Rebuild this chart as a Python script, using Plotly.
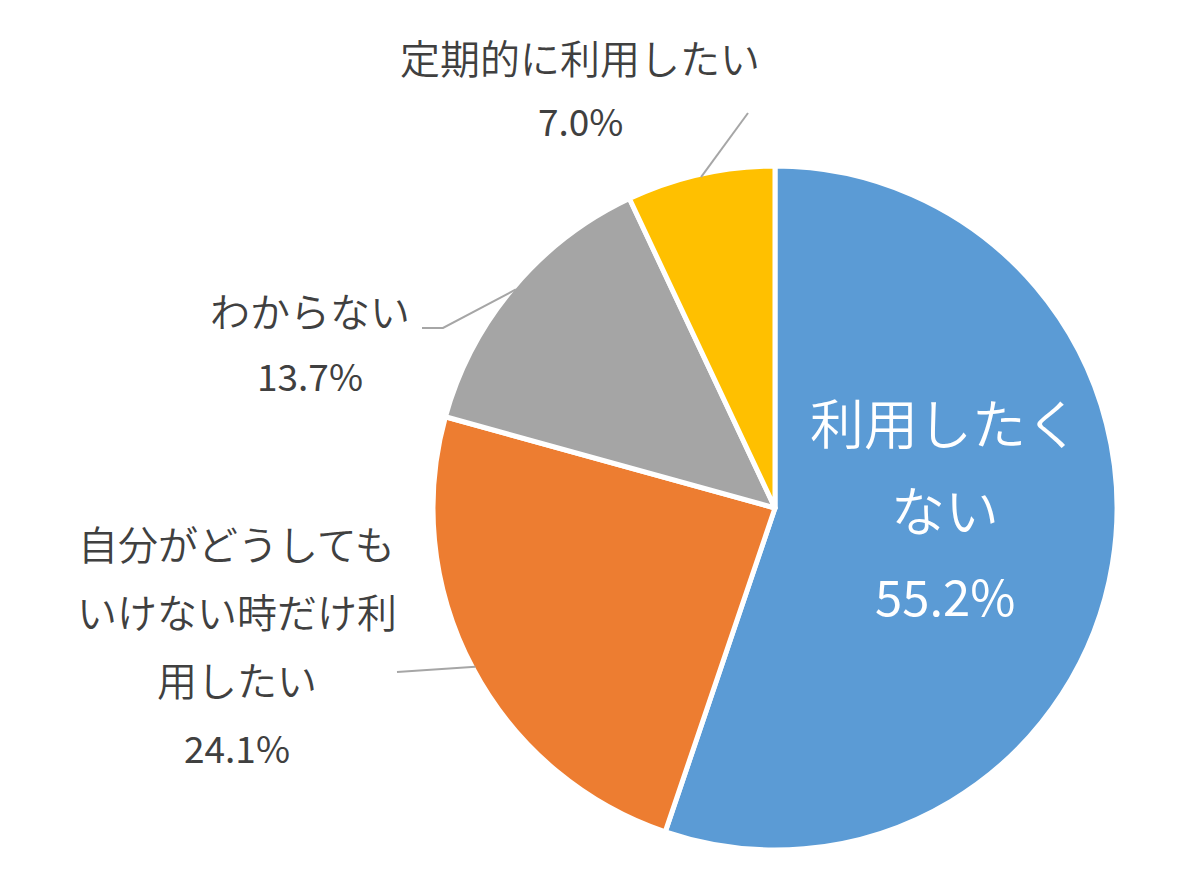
import math
import plotly.graph_objects as go

# ---- data ----
categories = ["利用したくない", "自分がどうしてもいけない時だけ利用したい", "わからない", "定期的に利用したい"]
values = [55.2, 24.1, 13.7, 7.0]
colors = ["#5B9BD5", "#ED7D31", "#A5A5A5", "#FFC000"]

# label line breaks as shown in the chart
label_lines = [
    ["利用したく", "ない"],
    ["自分がどうしても", "いけない時だけ利", "用したい"],
    ["わからない"],
    ["定期的に利用したい"],
]

OFF = 8                      # page body margin
W, H = 1200 - OFF, 882 - OFF  # figure size
CX, CY, R = 775, 508, 342    # pie geometry in page pixels


def px(x):
    return (x - OFF) / W


def py(y):
    return 1 - (y - OFF) / H


fig = go.Figure(go.Pie(
    labels=categories,
    values=values,
    sort=False,
    direction="clockwise",
    rotation=0,
    marker=dict(colors=colors, line=dict(color="white", width=5)),
    textinfo="none",
    hoverinfo="label+percent",
    showlegend=False,
    domain=dict(x=[px(CX - R), px(CX + R)], y=[py(CY + R), py(CY - R)]),
))

# label layout positions (page pixels): center x, first line y, line step, sizes
label_pos = [
    dict(x=945, y=422, step=86, size=54, nsize=49, color="white"),
    dict(x=237, y=543, step=68, size=40, nsize=37, color="#404040"),
    dict(x=310, y=310, step=65, size=40, nsize=37, color="#404040"),
    dict(x=580, y=57, step=63, size=40, nsize=37, color="#404040"),
]
# leader line text-side anchor points (page pixels) for outside labels
leader_start = {
    1: [(397, 672)],
    2: [(422, 328), (443, 328)],
    3: [(748, 113)],
}

font_family = "Noto Sans CJK JP"
annotations = []
shapes = []
total = sum(values)
cum = 0.0
for i, v in enumerate(values):
    mid = (cum + v / 2) / total * 2 * math.pi
    cum += v
    lp = label_pos[i]
    lines = label_lines[i] + [f"{v:.1f}%"]
    for k, t in enumerate(lines):
        is_num = k == len(lines) - 1
        annotations.append(dict(
            x=px(lp["x"]), y=py(lp["y"] + k * lp["step"]),
            xref="paper", yref="paper", text=t, showarrow=False,
            xanchor="center", yanchor="middle",
            font=dict(family=font_family, size=lp["nsize"] if is_num else lp["size"],
                      color=lp["color"], weight=400 if is_num else 350),
        ))
    if i in leader_start:
        rr = R - 3
        ex = CX + rr * math.sin(mid)
        ey = CY - rr * math.cos(mid)
        pts = leader_start[i] + [(ex, ey)]
        path = "M " + " L ".join(f"{px(a)},{py(b)}" for a, b in pts)
        shapes.append(dict(type="path", xref="paper", yref="paper", path=path,
                           line=dict(color="#A6A6A6", width=2)))

fig.update_layout(
    width=W, height=H,
    margin=dict(l=0, r=0, t=0, b=0),
    paper_bgcolor="white",
    plot_bgcolor="white",
    annotations=annotations,
    shapes=shapes,
)

fig.write_html("out.html")
